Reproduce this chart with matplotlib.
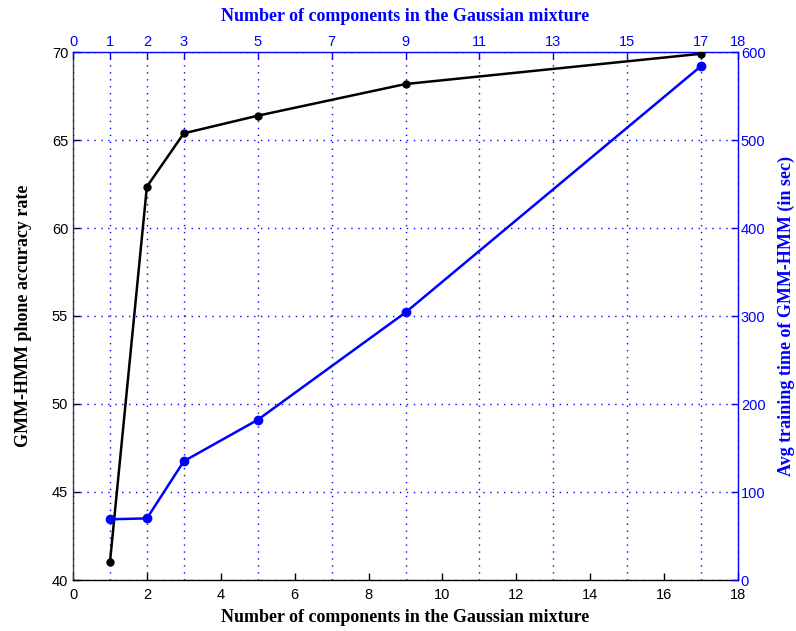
import matplotlib.pyplot as plt

# data
n_comp = [1, 2, 3, 5, 9, 17]
accuracy = [41.0, 62.35, 65.38, 66.38, 68.18, 69.9]
train_time = [69, 70, 135, 182, 304, 584]

bottom_ticks = [0, 2, 4, 6, 8, 10, 12, 14, 16, 18]
top_ticks = [0, 1, 2, 3, 5, 7, 9, 11, 13, 15, 17, 18]
left_ticks = [40, 45, 50, 55, 60, 65, 70]
right_ticks = [0, 100, 200, 300, 400, 500, 600]

BLUE = '#0000FF'
tick_font = dict(family='Liberation Sans', size=10.5)
label_font = dict(family='Liberation Serif', size=13, weight='bold')

fig = plt.figure(figsize=(7.96, 6.31), dpi=100)
rect = [73 / 796, 51 / 631, 665 / 796, 528 / 631]

ax = fig.add_axes(rect)
ax2 = fig.add_axes(rect, frameon=False)

# primary axes: accuracy
ax.set_xlim(0, 18)
ax.set_ylim(40, 70)
ax.set_xticks(bottom_ticks)
ax.set_yticks(left_ticks)
ax.tick_params(direction='in', length=5, width=1, colors='black',
               top=False, right=False)
ax.tick_params(axis='x', pad=6)
for lab in ax.get_xticklabels() + ax.get_yticklabels():
    lab.set_fontfamily(tick_font['family'])
    lab.set_fontsize(tick_font['size'])
ax.spines['left'].set_color('#404040')
ax.spines['bottom'].set_color('black')
ax.spines['top'].set_color(BLUE)
ax.spines['right'].set_color(BLUE)
for s in ax.spines.values():
    s.set_linewidth(1)
ax.set_xlabel('Number of components in the Gaussian mixture', **label_font, labelpad=5)
ax.set_ylabel('GMM-HMM phone accuracy rate', **label_font, labelpad=14)

# secondary axes: training time
ax2.set_xlim(0, 18)
ax2.set_ylim(0, 600)
ax2.xaxis.set_ticks_position('top')
ax2.xaxis.set_label_position('top')
ax2.yaxis.set_ticks_position('right')
ax2.yaxis.set_label_position('right')
ax2.set_xticks(top_ticks)
ax2.set_yticks(right_ticks)
ax2.tick_params(direction='in', length=5, width=1, colors=BLUE, pad=2)
for lab in ax2.get_xticklabels() + ax2.get_yticklabels():
    lab.set_fontfamily(tick_font['family'])
    lab.set_fontsize(tick_font['size'])
ax2.grid(True, color=BLUE, linestyle=(0, (1, 4)), linewidth=1)
ax2.set_xlabel('Number of components in the Gaussian mixture', color=BLUE,
               **label_font, labelpad=10)
ax2.set_ylabel('Avg training time of GMM-HMM (in sec)', color=BLUE,
               **label_font, labelpad=9)

ax2.plot(n_comp, accuracy, color='black', lw=1.8, marker='o', ms=5,
         transform=ax.transData, zorder=3)
ax2.plot(n_comp, train_time, color=BLUE, lw=1.8, marker='o', ms=6, zorder=4)

plt.savefig('out.png', dpi=100)
